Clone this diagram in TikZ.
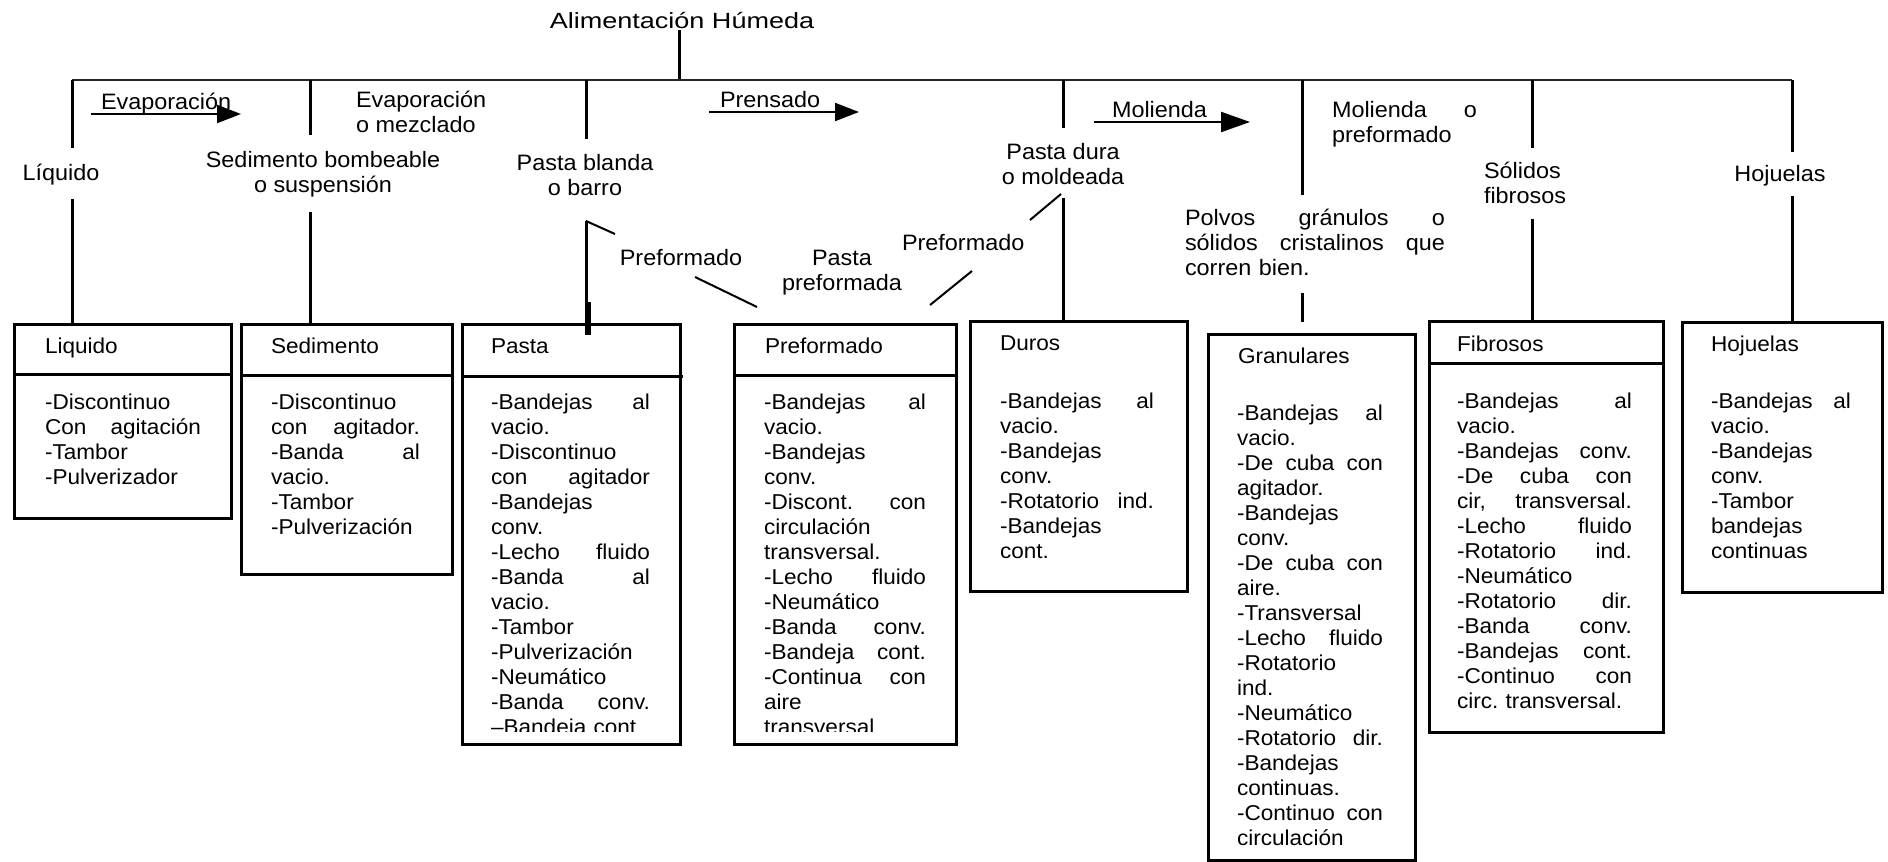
\documentclass[tikz,border=0pt]{standalone}
\usepackage{fontspec}
\setmainfont{Liberation Sans}[FakeStretch=1.05]
\usepackage{graphicx}
\usetikzlibrary{arrows.meta}
\setlength\parindent{0pt}
\frenchspacing
\newcommand\itemfnt{\fontsize{21.5}{25}\selectfont}
\newcommand\labfnt{\fontsize{22.3}{25}\selectfont}
\newcommand\titlefnt{\fontsize{22}{25}\selectfont}
% strut that fixes the first baseline 20pt below a node's top edge
\newcommand\fl{\rule{0pt}{20pt}}
\tikzset{
  txt/.style={inner sep=0pt, outer sep=0pt, font=\labfnt},
  mlab/.style={txt, anchor=north, align=center},
  items/.style={inner sep=0pt, outer sep=0pt, anchor=north west, align=left, font=\itemfnt},
  btitle/.style={inner sep=0pt, outer sep=0pt, anchor=base west, font=\itemfnt},
  box/.style={draw, line width=3pt, inner sep=0pt, anchor=north west},
  conn/.style={line width=3pt},
  bus/.style={line width=2.3pt, black!85},
  diag/.style={line width=2pt},
  arr/.style={line width=2.2pt, -{Triangle[length=24pt,width=18pt]}},
}
\begin{document}
\begin{tikzpicture}[x=1pt,y=-1pt]
\useasboundingbox (0,0) rectangle (1888,862);
\fill[white] (0,0) rectangle (1888,862);

% ---------- root and main bus ----------
\node[inner sep=0pt, anchor=base, font=\titlefnt] (root) at (682,28)
  {\scalebox{1.17}[1]{Alimentación Húmeda}};
\coordinate (rootdown) at (679,30);
\coordinate (busroot) at (679,80);
\coordinate (busL) at (72,80);
\coordinate (busR) at (1792,80);
\draw[conn] (rootdown) -- (busroot);
\draw[bus] (busL) -- (busR);

% ---------- branch labels ----------
\node[txt, anchor=base] (lliq) at (61,180) {Líquido};
\node[mlab] (lsed) at (323,147) {\fl Sedimento bombeable\\o suspensión};
\node[txt, anchor=north west, align=left] (levm) at (356,87) {\fl Evaporación\\o mezclado};
\node[mlab] (lpbl) at (585,150) {\fl Pasta blanda\\o barro};
\node[mlab] (lpdu) at (1063,139) {\fl Pasta dura\\o moldeada};
\node[txt, anchor=north west, align=left, text width=145pt] (lmol)
  at (1332,97) {\fl Molienda\hfill o\\preformado};
\node[txt, anchor=north west, align=left, text width=260pt] (lpol)
  at (1185,205) {\fl Polvos\hfill gránulos\hfill o\\sólidos\hfill cristalinos\hfill que\\corren bien.};
\node[txt, anchor=north west, align=left] (lsol) at (1484,158) {\fl Sólidos\\fibrosos};
\node[txt, anchor=base] (lhoj) at (1780,181) {Hojuelas};
\node[txt, anchor=base] (lpre1) at (681,265) {Preformado};
\node[mlab] (lpp) at (842,245) {\fl Pasta\\preformada};
\node[txt, anchor=base west] (lpre2) at (902,250) {Preformado};

% ---------- process arrows ----------
\node[txt, anchor=base west] (tev) at (101,109) {Evaporación};
\coordinate (ev1) at (91,114); \coordinate (ev2) at (241,114);
\draw[arr] (ev1) -- (ev2);
\node[txt, anchor=base west] (tpr) at (720,107) {Prensado};
\coordinate (pr1) at (709,112); \coordinate (pr2) at (859,112);
\draw[arr] (pr1) -- (pr2);
\node[txt, anchor=base west] (tmo) at (1112,117) {Molienda};
\coordinate (mo1) at (1094,122); \coordinate (mo2) at (1250,122);
\draw[line width=2.2pt, -{Triangle[length=29pt,width=20pt]}] (mo1) -- (mo2);

% ---------- boxes ----------
\node[box, minimum width=217pt, minimum height=194pt] (bliq) at (13,323) {};
\node[box, minimum width=211pt, minimum height=250pt] (bsed) at (240,323) {};
\node[box, minimum width=218pt, minimum height=420pt] (bpas) at (461,323) {};
\node[box, minimum width=222pt, minimum height=420pt] (bpre) at (733,323) {};
\node[box, minimum width=217pt, minimum height=270pt] (bdur) at (969,320) {};
\node[box, minimum width=207pt, minimum height=526pt] (bgra) at (1207,333) {};
\node[box, minimum width=234pt, minimum height=411pt] (bfib) at (1428,320) {};
\node[box, minimum width=200pt, minimum height=270pt] (bhoj) at (1681,321) {};

% header dividers
\draw[conn] (bliq.north west) ++(0,51) -- ++(217,0);
\draw[conn] (bsed.north west) ++(0,52) -- ++(211,0);
\draw[conn] (bpas.north west) ++(0,53) -- ++(222,0);
\draw[conn] (bpre.north west) ++(0,52) -- ++(222,0);
\draw[conn] (bfib.north west) ++(0,43) -- ++(234,0);

% ---------- connectors ----------
\coordinate (c1a) at (72,148);   \coordinate (c1b) at (72,199);   \coordinate (c1c) at (72,323);
\coordinate (c2a) at (310,80);   \coordinate (c2b) at (310,135);  \coordinate (c2c) at (310,212);  \coordinate (c2d) at (310,323);
\coordinate (c3a) at (586,80);   \coordinate (c3b) at (586,139);  \coordinate (c3c) at (586,221);  \coordinate (c3d) at (586,335);
\coordinate (c3e) at (588,302);  \coordinate (c3f) at (615,234);
\coordinate (c5a) at (1063,80);  \coordinate (c5b) at (1063,128); \coordinate (c5c) at (1063,198); \coordinate (c5d) at (1063,320);
\coordinate (c6a) at (1302,80);  \coordinate (c6b) at (1302,195); \coordinate (c6c) at (1302,293); \coordinate (c6d) at (1302,322);
\coordinate (c7a) at (1532,80);  \coordinate (c7b) at (1532,148); \coordinate (c7c) at (1532,219); \coordinate (c7d) at (1532,320);
\coordinate (c8b) at (1792,152); \coordinate (c8c) at (1792,196); \coordinate (c8d) at (1792,321);

\draw[conn] (busL) -- (c1a);  \draw[conn] (c1b) -- (c1c);
\draw[conn] (c2a) -- (c2b);   \draw[conn] (c2c) -- (c2d);
\draw[conn] (c3a) -- (c3b);   \draw[conn] (c3c) -- (c3d);
\draw[line width=5pt] (c3e) -- (c3e |- c3d);
\draw[diag] (c3c) -- (c3f);
\draw[conn] (c5a) -- (c5b);   \draw[conn] (c5c) -- (c5d);
\draw[conn] (c6a) -- (c6b);   \draw[conn] (c6c) -- (c6d);
\draw[conn] (c7a) -- (c7b);   \draw[conn] (c7c) -- (c7d);
\draw[conn] (busR) -- (c8b);  \draw[conn] (c8c) -- (c8d);

% preformed paths
\coordinate (d1a) at (695,277);  \coordinate (d1b) at (757,307);
\coordinate (d2a) at (930,305);  \coordinate (d2b) at (972,271);
\coordinate (d3a) at (1030,220); \coordinate (d3b) at (1061,194);
\draw[diag] (d1a) -- (d1b);
\draw[diag] (d2a) -- (d2b);
\draw[diag] (d3a) -- (d3b);

% ---------- box titles ----------
\node[btitle] (tliq) at (45,353) {Liquido};
\node[btitle] (tsed) at (271,353) {Sedimento};
\node[btitle] (tpas) at (491,353) {Pasta};
\node[btitle] (tpre) at (765,353) {Preformado};
\node[btitle] (tdur) at (1000,350) {Duros};
\node[btitle] (tgra) at (1238,363) {Granulares};
\node[btitle] (tfib) at (1457,351) {Fibrosos};
\node[btitle] (thoj) at (1711,351) {Hojuelas};

% ---------- box contents ----------
\node[items, text width=156pt] (iliq) at (45,389)
  {\fl-Discontinuo\\Con\hfill agitación\\-Tambor\\-Pulverizador};
\node[items, text width=149pt] (ised) at (271,389)
  {\fl-Discontinuo\\con\hfill agitador.\\-Banda\hfill al\\vacio.\\-Tambor\\-Pulverización};
\begin{scope}
\clip (0,0) rectangle (1888,731);
\node[items, text width=159pt] (ipas) at (491,389)
  {\fl-Bandejas\hfill al\\vacio.\\-Discontinuo\\con\hfill agitador\\-Bandejas\\conv.\\-Lecho\hfill fluido\\-Banda\hfill al\\vacio.\\-Tambor\\-Pulverización\\-Neumático\\-Banda\hfill conv.\\–Bandeja cont};
\node[items, text width=162pt] (ipre) at (764,389)
  {\fl-Bandejas\hfill al\\vacio.\\-Bandejas\\conv.\\-Discont.\hfill con\\circulación\\transversal.\\-Lecho\hfill fluido\\-Neumático\\-Banda\hfill conv.\\-Bandeja\hfill cont.\\-Continua\hfill con\\aire\\transversal};
\end{scope}
\node[items, text width=154pt] (idur) at (1000,388)
  {\fl-Bandejas\hfill al\\vacio.\\-Bandejas\\conv.\\-Rotatorio\hfill ind.\\-Bandejas\\cont.};
\node[items, text width=146pt] (igra) at (1237,400)
  {\fl-Bandejas\hfill al\\vacio.\\-De\hfill cuba\hfill con\\agitador.\\-Bandejas\\conv.\\-De\hfill cuba\hfill con\\aire.\\-Transversal\\-Lecho\hfill fluido\\-Rotatorio\\ind.\\-Neumático\\-Rotatorio\hfill dir.\\-Bandejas\\continuas.\\-Continuo\hfill con\\circulación};
\node[items, text width=175pt] (ifib) at (1457,388)
  {\fl-Bandejas\hfill al\\vacio.\\-Bandejas\hfill conv.\\-De\hfill cuba\hfill con\\cir,\hfill transversal.\\-Lecho\hfill fluido\\-Rotatorio\hfill ind.\\-Neumático\\-Rotatorio\hfill dir.\\-Banda\hfill conv.\\-Bandejas\hfill cont.\\-Continuo\hfill con\\circ. transversal.};
\node[items, text width=140pt] (ihoj) at (1711,388)
  {\fl-Bandejas\hfill al\\vacio.\\-Bandejas\\conv.\\-Tambor\\bandejas\\continuas};
\end{tikzpicture}
\end{document}
